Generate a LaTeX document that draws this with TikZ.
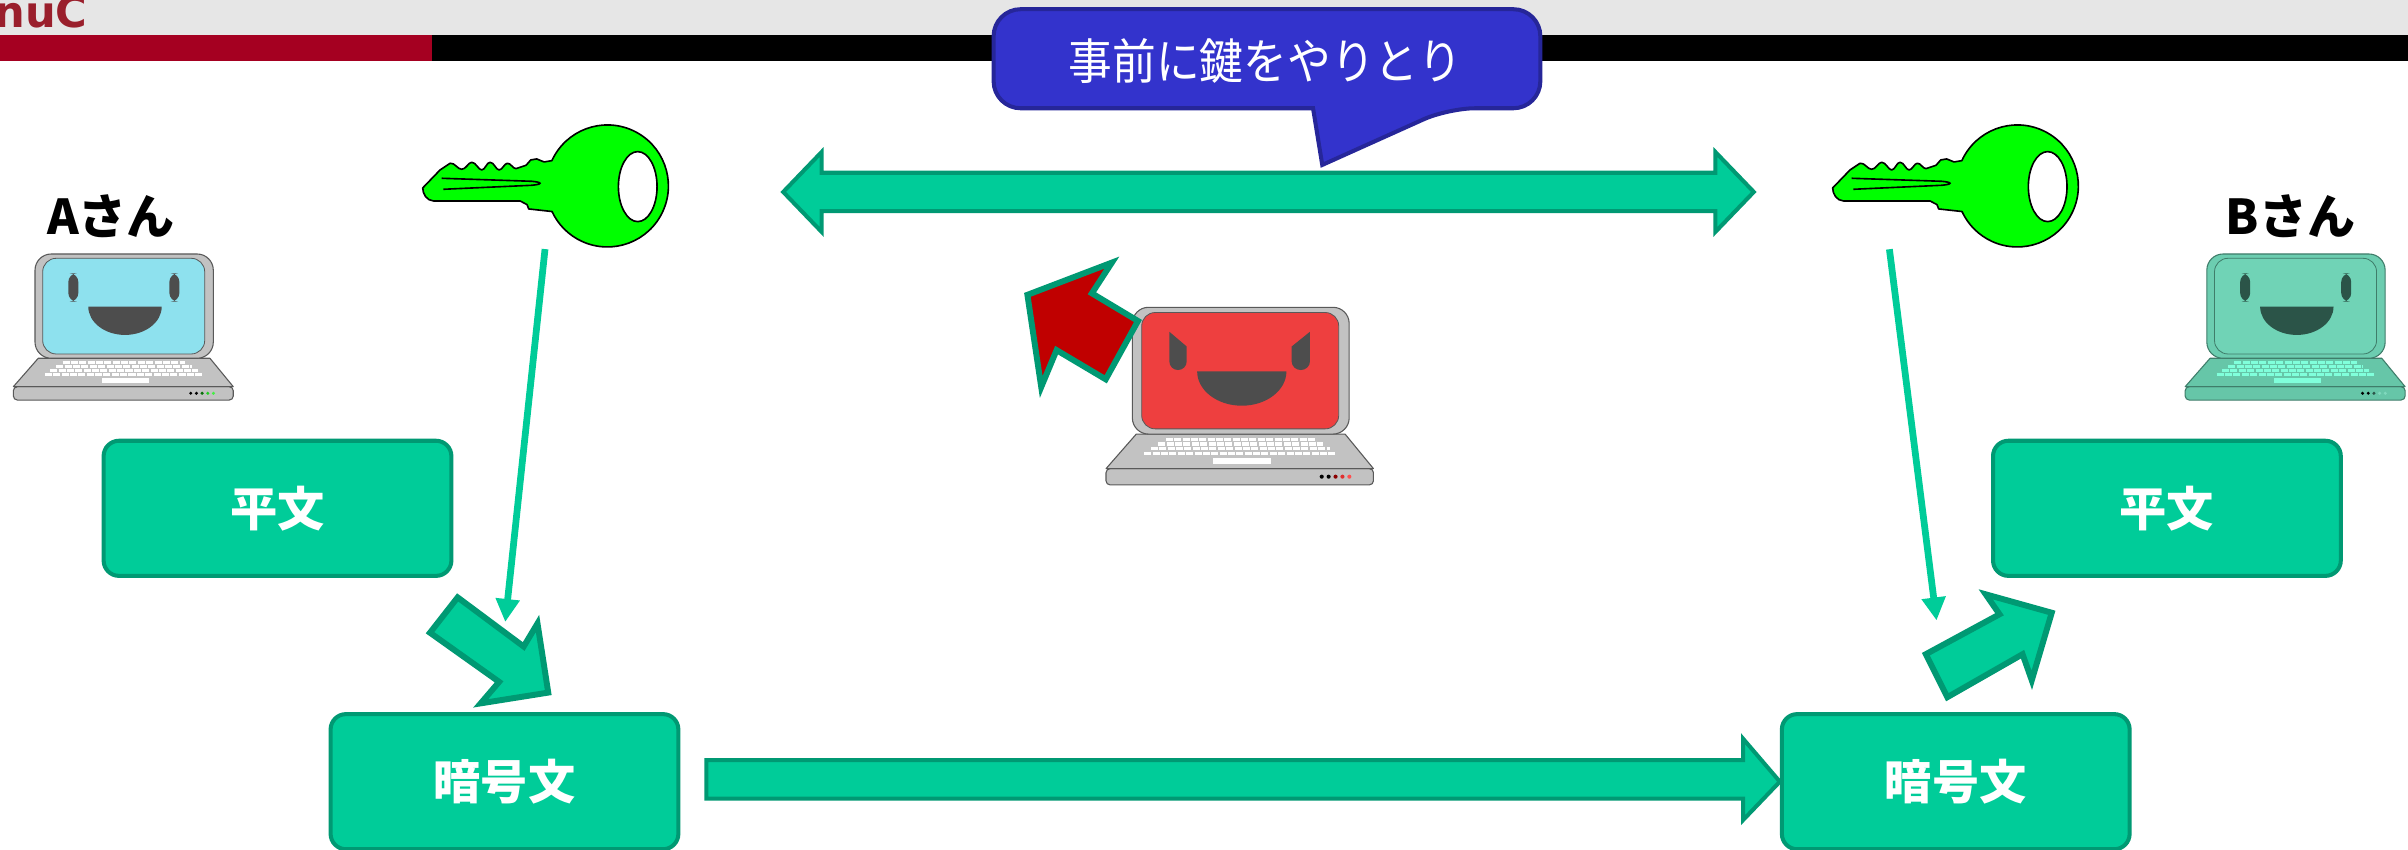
\documentclass[tikz,border=0pt]{standalone}
\usepackage{fontspec}
\usepackage{graphicx}
\newfontfamily\jp{Noto Sans CJK JP}
\newfontfamily\logofont{DejaVu Sans}
\usetikzlibrary{arrows.meta}

\definecolor{hdrgray}{HTML}{E6E6E6}
\definecolor{hdrred}{HTML}{A50021}
\definecolor{logored}{HTML}{9A1F2C}
\definecolor{boxfill}{HTML}{00CC99}
\definecolor{boxline}{HTML}{009973}
\definecolor{callfill}{HTML}{3333CC}
\definecolor{callline}{HTML}{262699}
\definecolor{keygreen}{HTML}{00FF00}
\definecolor{evilred}{HTML}{C00000}

\tikzset{
  gbox/.style={draw=boxline, fill=boxfill, line width=1.5pt, rounded corners=0.2cm,
    minimum width=4.53cm, minimum height=1.76cm, text=white,
    font=\jp\bfseries\fontsize{17.5}{20}\selectfont},
  bigarrow/.style={draw=boxline, fill=boxfill, line width=1.5pt, line join=miter},
  blockarrow/.style={draw=boxline, fill=boxfill, line width=2.2pt, line join=miter},
  thinarrow/.style={draw=boxfill, line width=2.5pt, -{Triangle[length=8.5pt,width=8.5pt]}},
  who/.style={anchor=base, inner sep=0, font=\jp\bfseries\fontsize{17.8}{20}\selectfont}
}

% laptop body, drawn in its own frame (0..143 x 0..95)
\newcommand{\laptopbody}{%
  \path[fill=lpbase, draw=lpln, line width=0.4pt, rounded corners=1.5] (0,86.4) rectangle (143.2,95.1);
  \path[fill=lpbase, draw=lpln, line width=0.4pt, line join=round] (16.2,67.9) -- (128,67.9) -- (143.2,86.4) -- (0,86.4) -- cycle;
  \path[fill=lpbez, draw=lpln, line width=0.4pt, rounded corners=6] (14.1,0) rectangle (130.2,67.9);
  \path[fill=lpscr, draw=lpln, line width=0.3pt, rounded corners=5] (19.1,2.8) rectangle (124.6,65.1);
  \foreach \yy/\hw in {70.6/40,73.2/44,75.8/48,78.4/51.5}
    \draw[lpkey, line width=1.15pt, dash pattern=on 2.6pt off 0.5pt] (72-\hw,\yy) -- (72+\hw,\yy);
  \fill[lpkey] (57.5,80.9) rectangle (88.3,84);
  \foreach \i/\c in {0/leda,1/ledb,2/ledc,3/ledd,4/lede}
    \fill[\c] (115.5+3.7*\i,90.7) circle[radius=1.1];
}
\newcommand{\smileface}{%
  \fill[lpface, rounded corners=3.2] (35.8,12.6) rectangle (42.3,31);
  \fill[lpface, rounded corners=3.2] (101.6,12.6) rectangle (108.1,31);
  \fill[lpface] (48.8,34.3) -- (96.6,34.3) arc[start angle=0,end angle=180,x radius=23.9,y radius=18.4] -- cycle;
}
\newcommand{\devilface}{%
  \fill[lpface] (33.9,13.1) -- (43.2,21) -- (43.2,29) arc[start angle=0,end angle=180,x radius=4.65,y radius=4.6] -- cycle;
  \fill[lpface] (109.2,13.1) -- (109.2,29) arc[start angle=0,end angle=180,x radius=4.9,y radius=4.6] -- (99.4,21) -- cycle;
  \fill[lpface] (48.8,34.3) -- (96.6,34.3) arc[start angle=0,end angle=180,x radius=23.9,y radius=18.4] -- cycle;
}
% key in its own frame (bit on the left, bow on the right)
\newcommand{\greenkey}{%
  \filldraw[fill=keygreen, draw=black, line width=0.6pt, line join=round]
    (68,234) -- (120,180) -- (150,160)
    .. controls (165,158) and (172,178) .. (185,178)
    .. controls (198,178) and (205,157) .. (215,157)
    .. controls (228,157) and (235,180) .. (245,180)
    .. controls (255,180) and (260,157) .. (270,157)
    .. controls (282,157) and (288,180) .. (297,180)
    .. controls (307,180) and (313,160) .. (322,160)
    .. controls (333,160) and (338,176) .. (348,176)
    -- (378,166) -- (392,150) -- (410,147) -- (432,156) -- (455.5,152.1)
    arc[start angle=204.5,end angle=515.2,radius=183]
    -- (386,297) -- (381,284) -- (360,273) -- (100,273)
    .. controls (80,272) and (68,252) .. (68,234) -- cycle;
  \filldraw[fill=white, draw=black, line width=0.6pt] (713,230) ellipse[x radius=58,y radius=105];
  \draw[black, line width=0.6pt] (125,205) -- (395,214) .. controls (428,217) and (428,223) .. (395,226) -- (130,238);
}

\begin{document}
\begin{tikzpicture}[x=0.02cm,y=-0.02cm]
\useasboundingbox (0,0) rectangle (1568,553);
\clip (0,0) rectangle (1568,553);
\fill[white] (0,0) rectangle (1568,553);

% title bar
\fill[hdrgray] (0,0) rectangle (1568,23);
\fill[hdrred] (0,23) rectangle (281,40);
\fill[black] (281,23) rectangle (1568,40);
\node[anchor=base west, inner sep=0, text=logored, font=\logofont\bfseries\fontsize{16}{16}\selectfont] (logo) at (-4,18) {nuC};

% key exchange arrow
\coordinate (exL) at (510,125);
\coordinate (exR) at (1142,125);
\draw[bigarrow] (exL) -- (535,99) -- (535,112.5) -- (1117,112.5) -- (1117,99) -- (exR)
  -- (1117,151) -- (1117,137.5) -- (535,137.5) -- (535,151) -- cycle;

% speech bubble
\draw[draw=callline, fill=callfill, line width=1.5pt, line join=miter]
  (943,70.5) -- (861,107.4) -- (855,70.5) [rounded corners=10] -- (647,70.5) -- (647,6)
  -- (1003,6) -- (1003,70.5) -- cycle;
\node[text=white, font=\jp\fontsize{18}{20}\selectfont] (bubble) at (824,40) {\scalebox{0.9}[1]{事前に鍵をやりとり}};

% keys
\begin{scope}[shift={(260.5,71.6)}, scale=0.21706]
  \greenkey
\end{scope}
\begin{scope}[shift={(1178.6,71.6)}, scale=0.21706]
  \greenkey
\end{scope}

% names
\node[who] (nameA) at (72.2,153) {Aさん};
\node[who] (nameB) at (1491.4,153) {Bさん};

% laptop of A
\begin{scope}[shift={(8.7,165.4)}]
  \colorlet{lpbase}{black!24}\colorlet{lpbez}{black!24}\colorlet{lpln}{black!65}
  \definecolor{lpscr}{HTML}{8EE1EE}\definecolor{lpface}{HTML}{4D4D4D}\colorlet{lpkey}{white}
  \colorlet{leda}{black}\colorlet{ledb}{black}\definecolor{ledc}{HTML}{0A6E0A}
  \definecolor{ledd}{HTML}{22CC22}\definecolor{lede}{HTML}{44EE44}
  \laptopbody \smileface
\end{scope}

% laptop of B
\begin{scope}[shift={(1422.9,165.4)}]
  \definecolor{lpbase}{HTML}{66C6A8}\definecolor{lpbez}{HTML}{6CCDB0}\definecolor{lpln}{HTML}{3F7D6A}
  \definecolor{lpscr}{HTML}{70D3B6}\definecolor{lpface}{HTML}{2B5448}\definecolor{lpkey}{HTML}{80FFDB}
  \colorlet{leda}{black}\colorlet{ledb}{black}\definecolor{ledc}{HTML}{2B5448}
  \definecolor{ledd}{HTML}{80D8BE}\definecolor{lede}{HTML}{80D8BE}
  \laptopbody \smileface
\end{scope}

% eavesdropper laptop
\begin{scope}[shift={(720.2,200.1)}, scale=1.216]
  \colorlet{lpbase}{black!24}\colorlet{lpbez}{black!24}\colorlet{lpln}{black!65}
  \definecolor{lpscr}{HTML}{EE3F3F}\definecolor{lpface}{HTML}{4D4D4D}\colorlet{lpkey}{white}
  \colorlet{leda}{black}\colorlet{ledb}{black}\definecolor{ledc}{HTML}{8B0000}
  \definecolor{ledd}{HTML}{E03030}\definecolor{lede}{HTML}{FF5050}
  \laptopbody \devilface
\end{scope}

% eavesdropper's arrow
\draw[draw=boxline, fill=evilred, line width=2.2pt, line join=miter]
  (669,192) -- (724,171) -- (711,191) -- (741,209) -- (720,247) -- (688,228) -- (678,252) -- cycle;

% text boxes
\node[gbox] (plainA) at (180.7,331) {平文};
\node[gbox] (plainB) at (1411,331) {平文};
\node[gbox] (cipherA) at (328.5,509) {暗号文};
\node[gbox] (cipherB) at (1273.5,509) {暗号文};

% key use arrows
\coordinate (keyAend) at (354.9,162.2);
\coordinate (keyAtip) at (329,405);
\coordinate (keyBend) at (1230.3,162.3);
\coordinate (keyBtip) at (1261,404);
\draw[thinarrow] (keyAend) -- (keyAtip);
\draw[thinarrow] (keyBend) -- (keyBtip);

% encrypt / decrypt block arrows
\draw[blockarrow] (298,389) -- (341,421) -- (350,406) -- (357,451) -- (313,458) -- (325,444) -- (280,412) -- cycle;
\draw[blockarrow] (1268,454) -- (1254,426) -- (1302,400) -- (1293,387) -- (1336,399) -- (1323,443) -- (1317,426) -- cycle;

% transmission arrow
\coordinate (sendS) at (460,507.5);
\coordinate (sendT) at (cipherB.west);
\draw[bigarrow] (sendS |- 0,495) -- (1135,495) -- (1135,481) -- (sendT) -- (1135,534) -- (1135,520) -- (sendS |- 0,520) -- cycle;
\end{tikzpicture}
\end{document}
